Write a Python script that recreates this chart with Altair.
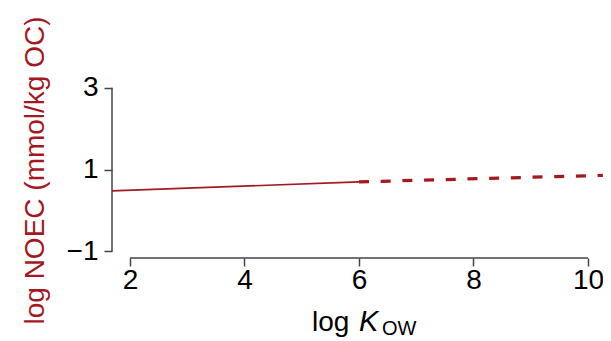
import altair as alt
import pandas as pd

# data
solid_x = [1.686, 6.0]
solid_y = [0.48, 0.70]
dash_x = [6.0, 10.26]
dash_y = [0.70, 0.86]
x_ticks = [2, 4, 6, 8, 10]
y_ticks = [-1, 1, 3]
y_title = "log NOEC (mmol/kg OC)"
x_title_parts = ["log", "K", "OW"]

RED = "#a3191f"
AXIS = "#444444"
FONT = "Liberation Sans"
W, H = 491, 248

xs = alt.Scale(domain=[1.686, 10.262], nice=False, zero=False)
ys = alt.Scale(domain=[-1.16, 4.9], nice=False, zero=False)

solid = pd.DataFrame({"x": solid_x, "y": solid_y})
dashed = pd.DataFrame({"x": dash_x, "y": dash_y})

common_axis = dict(
    domain=False, grid=False, tickSize=8, tickColor=AXIS, tickWidth=1.5,
    labelFontSize=28, labelFont=FONT, labelColor="black",
    labelOverlap=False, labelFlush=False, labelBound=False, format="d",
)

line_solid = alt.Chart(solid).mark_line(color=RED, strokeWidth=1.6, clip=False).encode(
    x=alt.X("x:Q", scale=xs,
            axis=alt.Axis(values=x_ticks, title=None, labelPadding=0, **common_axis)),
    y=alt.Y("y:Q", scale=ys,
            axis=alt.Axis(values=y_ticks, title=y_title, labelPadding=6,
                          titleColor=RED, titleFontSize=28, titleFont=FONT,
                          titleFontWeight="normal", titleX=-69, titleY=160,
                          titleBaseline="alphabetic", titleAngle=270,
                          titleAlign="center", **common_axis)),
)

line_dashed = alt.Chart(dashed).mark_line(
    color=RED, strokeWidth=3.2, strokeDash=[10, 11.7], strokeCap="butt", clip=False
).encode(
    x=alt.X("x:Q", scale=xs),
    y=alt.Y("y:Q", scale=ys),
)

yaxis_df = pd.DataFrame({"y": [y_ticks[0]], "y2": [y_ticks[-1]]})
yaxis_rule = alt.Chart(yaxis_df).mark_rule(color=AXIS, strokeWidth=1.5).encode(
    x=alt.value(0),
    y=alt.Y("y:Q", scale=ys),
    y2="y2:Q",
)

xaxis_df = pd.DataFrame({"x": [x_ticks[0]], "x2": [x_ticks[-1]]})
xaxis_rule = alt.Chart(xaxis_df).mark_rule(color=AXIS, strokeWidth=1.5).encode(
    y=alt.value(H),
    x=alt.X("x:Q", scale=xs),
    x2="x2:Q",
)

t_log = alt.Chart(pd.DataFrame({"t": [x_title_parts[0]]})).mark_text(
    align="left", baseline="alphabetic", fontSize=28, font=FONT, color="black"
).encode(x=alt.value(200), y=alt.value(321), text="t:N")

t_k = alt.Chart(pd.DataFrame({"t": [x_title_parts[1]]})).mark_text(
    align="left", baseline="alphabetic", fontSize=29, font=FONT, fontStyle="italic", color="black"
).encode(x=alt.value(247), y=alt.value(321), text="t:N")

t_ow = alt.Chart(pd.DataFrame({"t": [x_title_parts[2]]})).mark_text(
    align="left", baseline="alphabetic", fontSize=20, font=FONT, color="black"
).encode(x=alt.value(270), y=alt.value(325), text="t:N")

chart = alt.layer(
    yaxis_rule, xaxis_rule, line_solid, line_dashed, t_log, t_k, t_ow
).properties(
    width=W, height=H,
    autosize=alt.AutoSizeParams(type="none"),
    padding={"left": 104, "top": 2, "right": 0, "bottom": 90},
).configure_view(stroke=None)

chart.save("out.html", embed_options={"renderer": "svg", "actions": False})
